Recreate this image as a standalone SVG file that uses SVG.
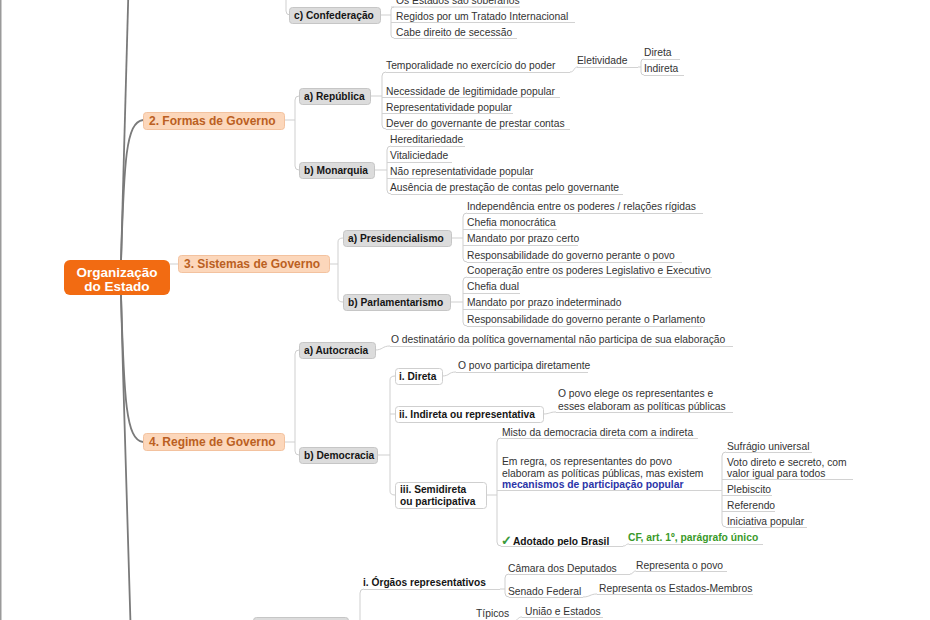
<svg xmlns="http://www.w3.org/2000/svg" width="930" height="620" viewBox="0 0 930 620">
<style>
text{font-family:"Liberation Sans",Arial,sans-serif}
.lf{font-size:10.3px;fill:#333}
.ul{stroke:#d2d2d2;stroke-width:1;fill:none}
.c{stroke:#cfcfcf;stroke-width:1;fill:none}
.tr{stroke:#7a7a7a;stroke-width:1.8;fill:none}
.b2 rect{fill:#dcdcdc;stroke:#c6c6c6;stroke-width:1}
.b2 text,.bw text,.bt{font-size:10.2px;font-weight:bold;fill:#151515}
.bw rect{fill:#fff;stroke:#cfcfcf;stroke-width:1}
.b1 rect{fill:#fcd7bb;stroke:#f3c29f;stroke-width:1}
.b1 text{font-size:12px;font-weight:bold;fill:#bb5f22}
.blue{font-weight:bold;fill:#2b34a8}
.green{font-size:10.3px;font-weight:bold;fill:#3a9a2a}
</style>
<rect x="0" y="0" width="930" height="620" fill="#fff"/>
<line x1="0.75" y1="0" x2="0.75" y2="620" stroke="#9a9a9a" stroke-width="1.5"/>

<g id="connectors">
<path class="tr" d="M121,262 C123,160 126,60 129,-30"/>
<path class="tr" d="M121,262 C124,160 126,122 143,120"/>
<path class="tr" d="M121,295 C124,400 126,440 143,442"/>
<path class="tr" d="M121,295 C124,420 129,560 131,640"/>
<path class="c" d="M170,264 H178"/>
<path class="c" d="M286,-20 V11 Q286,15 290,15"/>
<path class="c" d="M380,15 H391 M394,7 Q391,7 391,10 V35 Q391,38 394,38"/>
<path class="c" d="M284,120 H295 M299,96 Q295,96 295,100 V166 Q295,170 299,170"/>
<path class="c" d="M370,96 H382 M386,72 Q382,72 382,76 V125 Q382,129 386,129"/>
<path class="c" d="M570,72 C575,72 573,67 578,67"/>
<path class="c" d="M638,67 H641 M644,59 Q641,59 641,62 V72 Q641,75 644,75"/>
<path class="c" d="M374,170 H387 M391,146 Q387,146 387,150 V190 Q387,194 391,194"/>
<path class="c" d="M329,264 H338 M343,238 Q338,238 338,242 V298 Q338,302 343,302"/>
<path class="c" d="M451,238 H463 M467,213 Q463,213 463,217 V258 Q463,262 467,262"/>
<path class="c" d="M450,302 H463 M467,277 Q463,277 463,281 V322 Q463,326 467,326"/>
<path class="c" d="M284,442 H295 M299,350 Q295,350 295,354 V451 Q295,455 299,455"/>
<path class="c" d="M375,350 C383,350 382,346 390,346"/>
<path class="c" d="M377,455 H390 M395,376 Q390,376 390,380 V491 Q390,495 395,495 M390,414 H395"/>
<path class="c" d="M442,376 C450,376 448,372 456,372"/>
<path class="c" d="M543,414 C550,414 549,412 556,412"/>
<path class="c" d="M486,495 H497 M501,438 Q497,438 497,442 V542 Q497,546 501,546"/>
<path class="c" d="M726,452 Q722,452 722,456 V523 Q722,527 726,527"/>
<path class="c" d="M623,546 C627,546 625,544 629,544"/>
<path class="c" d="M360,625 V593 Q360,589 364,589"/>
<path class="c" d="M500,589 H505 M509,574 Q505,574 505,578 V593 Q505,597 509,597"/>
<path class="c" d="M630,574 C634,574 632,571 636,571"/>
<path class="c" d="M583,597 C590,597 590,594 597,594"/>
<path class="c" d="M514,621 C518,621 517,617 522,617"/>
</g>

<g id="root">
<rect x="64" y="260" width="106" height="35" rx="6" fill="#f26b12"/>
<text x="117" y="277" text-anchor="middle" font-size="13.5" font-weight="bold" fill="#fff">Organização</text>
<text x="117" y="291" text-anchor="middle" font-size="13.5" font-weight="bold" fill="#fff">do Estado</text>
</g>

<g id="formas" class="b1"><rect x="143.5" y="112.5" width="141" height="17" rx="3"/><text x="149" y="125">2. Formas de Governo</text></g>
<g id="sistemas" class="b1"><rect x="178.5" y="255.5" width="151" height="17" rx="3"/><text x="184" y="268">3. Sistemas de Governo</text></g>
<g id="regime" class="b1"><rect x="143.5" y="433.5" width="141" height="17" rx="3"/><text x="149" y="446">4. Regime de Governo</text></g>

<g id="confederacao" class="b2"><rect x="289.5" y="7.5" width="91" height="16" rx="3"/><text x="294" y="19">c) Confederação</text></g>
<g id="republica" class="b2"><rect x="299.5" y="88.5" width="71" height="16" rx="3"/><text x="304" y="100">a) República</text></g>
<g id="monarquia" class="b2"><rect x="299.5" y="162.5" width="75" height="16" rx="3"/><text x="304" y="174">b) Monarquia</text></g>
<g id="presidencialismo" class="b2"><rect x="343.5" y="230.5" width="108" height="16" rx="3"/><text x="348" y="242">a) Presidencialismo</text></g>
<g id="parlamentarismo" class="b2"><rect x="343.5" y="294.5" width="107" height="16" rx="3"/><text x="348" y="306">b) Parlamentarismo</text></g>
<g id="autocracia" class="b2"><rect x="299.5" y="342.5" width="76" height="16" rx="3"/><text x="304" y="354">a) Autocracia</text></g>
<g id="democracia" class="b2"><rect x="299.5" y="447.5" width="78" height="16" rx="3"/><text x="304" y="459">b) Democracia</text></g>
<g id="bottombox" class="b2"><rect x="253.5" y="617.5" width="95" height="16" rx="3"/></g>

<g id="direta" class="bw"><rect x="395.5" y="368.5" width="47" height="16" rx="3"/><text x="399" y="380">i. Direta</text></g>
<g id="indireta" class="bw"><rect x="395.5" y="406.5" width="148" height="16" rx="3"/><text x="399" y="418">ii. Indireta ou representativa</text></g>
<g id="semidireta" class="bw"><rect x="395.5" y="482.5" width="91" height="26" rx="3"/><text x="400" y="493">iii. Semidireta</text><text x="400" y="505">ou participativa</text></g>

<g id="conf1"><text class="lf" x="396" y="4">Os Estados são soberanos</text><path class="ul" d="M391,7 H520"/></g>
<g id="conf2"><text class="lf" x="396" y="20">Regidos por um Tratado Internacional</text><path class="ul" d="M391,22.5 H575"/></g>
<g id="conf3"><text class="lf" x="396" y="36">Cabe direito de secessão</text><path class="ul" d="M394,38.5 H517"/></g>

<g id="rep1"><text class="lf" x="386" y="69">Temporalidade no exercício do poder</text><path class="ul" d="M386,72.5 H570"/></g>
<g id="eletividade"><text class="lf" x="577" y="64">Eletividade</text><path class="ul" d="M577,67.5 H638"/></g>
<g id="el1"><text class="lf" x="644" y="56">Direta</text><path class="ul" d="M644,59.5 H680"/></g>
<g id="el2"><text class="lf" x="644" y="72">Indireta</text><path class="ul" d="M644,75.5 H684"/></g>
<g id="rep2"><text class="lf" x="386" y="95">Necessidade de legitimidade popular</text><path class="ul" d="M382,97.5 H560"/></g>
<g id="rep3"><text class="lf" x="386" y="111">Representatividade popular</text><path class="ul" d="M382,113.5 H513"/></g>
<g id="rep4"><text class="lf" x="386" y="127">Dever do governante de prestar contas</text><path class="ul" d="M386,129.5 H570"/></g>

<g id="mon1"><text class="lf" x="390" y="143">Hereditariedade</text><path class="ul" d="M391,146.5 H465"/></g>
<g id="mon2"><text class="lf" x="390" y="159">Vitaliciedade</text><path class="ul" d="M387,162.5 H452"/></g>
<g id="mon3"><text class="lf" x="390" y="175">Não representatividade popular</text><path class="ul" d="M387,178.5 H533"/></g>
<g id="mon4"><text class="lf" x="390" y="191">Ausência de prestação de contas pelo governante</text><path class="ul" d="M391,194.5 H623"/></g>

<g id="pre1"><text class="lf" x="467" y="210">Independência entre os poderes / relações rígidas</text><path class="ul" d="M467,213.5 H703"/></g>
<g id="pre2"><text class="lf" x="467" y="226">Chefia monocrática</text><path class="ul" d="M463,229.5 H557"/></g>
<g id="pre3"><text class="lf" x="467" y="242">Mandato por prazo certo</text><path class="ul" d="M463,245.5 H578"/></g>
<g id="pre4"><text class="lf" x="467" y="259">Responsabilidade do governo perante o povo</text><path class="ul" d="M467,262.5 H682"/></g>

<g id="par1"><text class="lf" x="467" y="274">Cooperação entre os poderes Legislativo e Executivo</text><path class="ul" d="M467,277.5 H712"/></g>
<g id="par2"><text class="lf" x="467" y="290">Chefia dual</text><path class="ul" d="M463,293.5 H520"/></g>
<g id="par3"><text class="lf" x="467" y="306">Mandato por prazo indeterminado</text><path class="ul" d="M463,309.5 H620"/></g>
<g id="par4"><text class="lf" x="467" y="323">Responsabilidade do governo perante o Parlamento</text><path class="ul" d="M467,326.5 H703"/></g>

<g id="auto1"><text class="lf" x="391" y="343">O destinatário da política governamental não participa de sua elaboração</text><path class="ul" d="M390,346.5 H733"/></g>
<g id="dir1"><text class="lf" x="458" y="369">O povo participa diretamente</text><path class="ul" d="M456,372.5 H588"/></g>
<g id="ind1"><text class="lf" x="558" y="397">O povo elege os representantes e</text><text class="lf" x="558" y="409.5">esses elaboram as políticas públicas</text><path class="ul" d="M556,412.5 H733"/></g>

<g id="semi1"><text class="lf" x="502" y="435.5">Misto da democracia direta com a indireta</text><path class="ul" d="M501,438.5 H698"/></g>
<g id="semi2"><text class="lf" x="502" y="465">Em regra, os representantes do povo</text><text class="lf" x="502" y="477">elaboram as políticas públicas, mas existem</text><text class="lf blue" x="502" y="488">mecanismos de participação popular</text><path class="ul" d="M497,490.5 H722"/></g>
<g id="adotado"><text x="501" y="545" font-size="13" font-weight="bold" fill="#3a9a3a">✓</text><text class="bt" x="513" y="545">Adotado pelo Brasil</text><path class="ul" d="M501,546.5 H623"/></g>
<g id="cf"><text class="green" x="628" y="541">CF, art. 1º, parágrafo único</text><path class="ul" d="M629,544.5 H763"/></g>

<g id="mec1"><text class="lf" x="727" y="449.5">Sufrágio universal</text><path class="ul" d="M726,452.5 H812"/></g>
<g id="mec2"><text class="lf" x="727" y="465.5">Voto direto e secreto, com</text><text class="lf" x="727" y="477">valor igual para todos</text><path class="ul" d="M722,479.5 H853"/></g>
<g id="mec3"><text class="lf" x="727" y="492.5">Plebiscito</text><path class="ul" d="M722,495.5 H772"/></g>
<g id="mec4"><text class="lf" x="727" y="508.5">Referendo</text><path class="ul" d="M722,511.5 H775"/></g>
<g id="mec5"><text class="lf" x="727" y="524.5">Iniciativa popular</text><path class="ul" d="M726,527.5 H807"/></g>

<g id="orgaos"><text class="bt" x="363" y="586">i. Órgãos representativos</text><path class="ul" d="M364,589.5 H500"/></g>
<g id="camara"><text class="lf" x="508" y="571.5">Câmara dos Deputados</text><path class="ul" d="M509,574.5 H630"/></g>
<g id="camara1"><text class="lf" x="636" y="568.5">Representa o povo</text><path class="ul" d="M636,571.5 H727"/></g>
<g id="senado"><text class="lf" x="508" y="594.5">Senado Federal</text><path class="ul" d="M509,597.5 H583"/></g>
<g id="senado1"><text class="lf" x="599" y="591.5">Representa os Estados-Membros</text><path class="ul" d="M597,594.5 H753"/></g>
<g id="tipicos"><text class="lf" x="476" y="617">Típicos</text></g>
<g id="uniao"><text class="lf" x="525" y="614.5">União e Estados</text><path class="ul" d="M522,617.5 H603"/></g>
</svg>
